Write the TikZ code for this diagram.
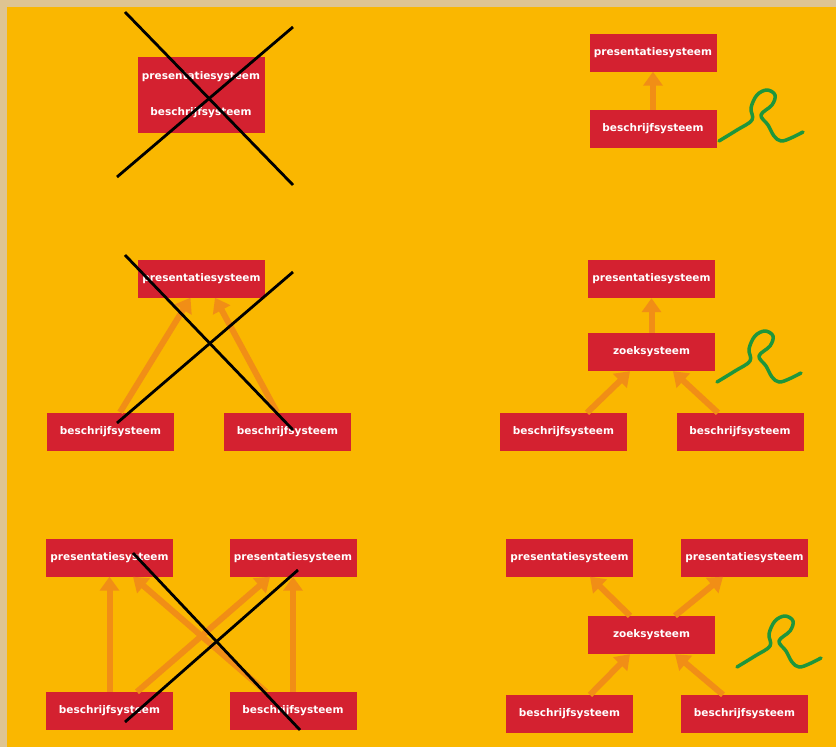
\documentclass[tikz,border=0pt]{standalone}
\usepackage{fontspec}
\setmainfont{DejaVu Sans}
\usepackage{tikz}
\usetikzlibrary{arrows.meta}
\definecolor{kader}{RGB}{222,196,146}
\definecolor{achtergrond}{RGB}{250,183,0}
\definecolor{boxrood}{RGB}{212,33,48}
\definecolor{pijloranje}{RGB}{241,142,22}
\definecolor{krulgroen}{RGB}{30,150,60}

\begin{document}
\begin{tikzpicture}[x=1pt, y=-1pt,
    systeem/.style={fill=boxrood, text=white, font=\bfseries\fontsize{10.5}{12}\selectfont,
        minimum width=127pt, minimum height=38pt, inner sep=0pt},
    pijl/.style={draw=pijloranje, line width=6pt, -{Triangle[length=14pt,width=19pt]}},
    kruis/.style={black, line width=2.8pt},
    krul/.pic={
        \draw[krulgroen, line width=3.5pt, line cap=round, line join=round]
            plot[smooth, tension=0.6] coordinates {(0,0) (18,-11) (33,-21) (32,-33) (38,-46)
                (48,-51) (56,-46) (53,-36) (42,-26) (49,-16) (55,-5) (62,0) (72,-3) (84,-9)};
    }]
    % Background
    \useasboundingbox (0,0) rectangle (836,747);
    \fill[kader] (0,0) rectangle (836,747);
    \fill[achtergrond] (7,7) rectangle (836,747);

    % Panel 1: alles in een systeem
    \node[systeem, minimum height=76pt, align=center] (combi) at (201,95)
        {presentatiesysteem\\[24pt]beschrijfsysteem};

    % Panel 2
    \node[systeem] (pres2) at (653,52.5) {presentatiesysteem};
    \node[systeem] (besch2) at (653,129) {beschrijfsysteem};
    \draw[pijl] (besch2.north) -- (pres2.south);

    % Panel 3
    \node[systeem] (pres3) at (201.5,278.5) {presentatiesysteem};
    \node[systeem] (beschl3) at (110.5,431.5) {beschrijfsysteem};
    \node[systeem] (beschr3) at (287.5,431.5) {beschrijfsysteem};
    \draw[pijl] ([xshift=9.5pt]beschl3.north) -- ([xshift=-11pt]pres3.south);
    \draw[pijl] ([xshift=-10.5pt]beschr3.north) -- ([xshift=13.5pt]pres3.south);

    % Panel 4
    \node[systeem] (pres4) at (651.5,279) {presentatiesysteem};
    \node[systeem] (zoek4) at (651.5,352) {zoeksysteem};
    \node[systeem] (beschl4) at (563.5,432) {beschrijfsysteem};
    \node[systeem] (beschr4) at (740,432) {beschrijfsysteem};
    \draw[pijl] (zoek4.north) -- (pres4.south);
    \draw[pijl] ([xshift=23.5pt]beschl4.north) -- ([xshift=-21.5pt]zoek4.south);
    \draw[pijl] ([xshift=-22pt]beschr4.north) -- ([xshift=21.5pt]zoek4.south);

    % Panel 5
    \node[systeem] (presl5) at (109.5,557.5) {presentatiesysteem};
    \node[systeem] (presr5) at (293,557.5) {presentatiesysteem};
    \node[systeem] (beschl5) at (109.5,711) {beschrijfsysteem};
    \node[systeem] (beschr5) at (293,711) {beschrijfsysteem};
    \draw[pijl] (beschl5.north) -- (presl5.south);
    \draw[pijl] (beschr5.north) -- (presr5.south);
    \draw[pijl] ([xshift=27.5pt]beschl5.north) -- ([xshift=-23pt]presr5.south);
    \draw[pijl] ([xshift=-27pt]beschr5.north) -- ([xshift=23.5pt]presl5.south);

    % Panel 6
    \node[systeem] (presl6) at (569.5,557.5) {presentatiesysteem};
    \node[systeem] (presr6) at (744.5,557.5) {presentatiesysteem};
    \node[systeem] (zoek6) at (651.5,635) {zoeksysteem};
    \node[systeem] (beschl6) at (569.5,714) {beschrijfsysteem};
    \node[systeem] (beschr6) at (744.5,714) {beschrijfsysteem};
    \draw[pijl] ([xshift=-21.5pt]zoek6.north) -- ([xshift=20.5pt]presl6.south);
    \draw[pijl] ([xshift=23.5pt]zoek6.north) -- ([xshift=-21.5pt]presr6.south);
    \draw[pijl] ([xshift=20.5pt]beschl6.north) -- ([xshift=-21.5pt]zoek6.south);
    \draw[pijl] ([xshift=-21.5pt]beschr6.north) -- ([xshift=23.5pt]zoek6.south);

    % Crosses
    \foreach \ax/\ay/\bx/\by/\cx/\cy/\dx/\dy in {125/12/293/185/117/177/293/27,
        125/255/293/430/117/423/293/272, 133/553/300/730/125/722/298/570} {
        \draw[kruis] (\ax,\ay) -- (\bx,\by);
        \draw[kruis] (\cx,\cy) -- (\dx,\dy);
    }

    % Krullen
    \pic at (719,141) {krul};
    \pic at (717,382) {krul};
    \pic at (737,667) {krul};
\end{tikzpicture}
\end{document}
